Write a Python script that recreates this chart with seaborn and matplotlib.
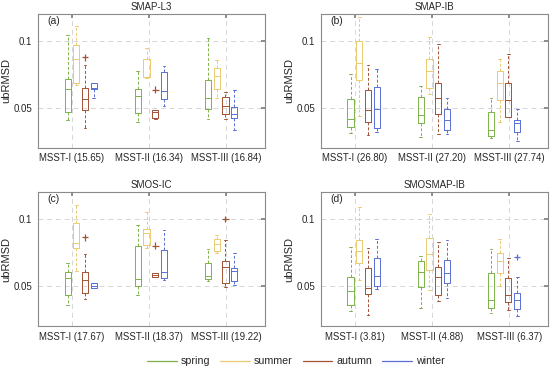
import numpy as np
import pandas as pd
import matplotlib
matplotlib.use("Agg")
import matplotlib.pyplot as plt
from matplotlib.lines import Line2D
import seaborn as sns

# seasons and their colours
seasons = ["spring", "summer", "autumn", "winter"]
season_colors = ["#7DB24A", "#EACB72", "#A35236", "#5A6FD6"]

titles = ["SMAP-L3", "SMAP-IB", "SMOS-IC", "SMOSMAP-IB"]
panel_tags = ["(a)", "(b)", "(c)", "(d)"]
tick_labels = [
    ["MSST-I (15.65)", "MSST-II (16.34)", "MSST-III (16.84)"],
    ["MSST-I (26.80)", "MSST-II (27.20)", "MSST-III (27.74)"],
    ["MSST-I (17.67)", "MSST-II (18.37)", "MSST-III (19.22)"],
    ["MSST-I (3.81)", "MSST-II (4.88)", "MSST-III (6.37)"],
]

# box summaries, one row per group, one entry per season:
# [low whisker, q1, median, q3, high whisker]
smap_l3 = [
    [[0.0410, 0.0470, 0.0636, 0.0715, 0.1045], [0.0670, 0.0686, 0.0866, 0.0970, 0.1110],
     [0.0347, 0.0483, 0.0564, 0.0649, 0.0817], [0.0574, 0.0636, 0.0644, 0.0686, 0.0686]],
    [[0.0396, 0.0463, 0.0587, 0.0641, 0.0772], [0.0725, 0.0728, 0.0732, 0.0866, 0.0946],
     [0.0413, 0.0421, 0.0468, 0.0480, 0.0480], [0.0510, 0.0562, 0.0624, 0.0765, 0.0814]],
    [[0.0413, 0.0488, 0.0574, 0.0708, 0.1020], [0.0574, 0.0636, 0.0735, 0.0797, 0.0854],
     [0.0413, 0.0450, 0.0512, 0.0579, 0.0619], [0.0332, 0.0426, 0.0450, 0.0505, 0.0629]],
]
smap_ib = [
    [[0.0310, 0.0359, 0.0418, 0.0562, 0.0752], [0.0438, 0.0705, 0.0834, 0.1000, 0.1180],
     [0.0297, 0.0394, 0.0483, 0.0629, 0.0822], [0.0320, 0.0347, 0.0493, 0.0656, 0.0790]],
    [[0.0282, 0.0384, 0.0446, 0.0579, 0.0661], [0.0600, 0.0644, 0.0772, 0.0866, 0.1030],
     [0.0302, 0.0450, 0.0569, 0.0681, 0.0975], [0.0307, 0.0332, 0.0406, 0.0493, 0.0569]],
    [[0.0272, 0.0285, 0.0334, 0.0470, 0.0574], [0.0396, 0.0554, 0.0686, 0.0777, 0.0866],
     [0.0433, 0.0433, 0.0554, 0.0681, 0.0903], [0.0253, 0.0322, 0.0384, 0.0408, 0.0488]],
]
smos_ic = [
    [[0.0358, 0.0433, 0.0560, 0.0602, 0.0669], [0.0610, 0.0784, 0.0818, 0.0970, 0.1104],
     [0.0403, 0.0445, 0.0547, 0.0602, 0.0739], [0.0485, 0.0485, 0.0502, 0.0520, 0.0520]],
    [[0.0435, 0.0500, 0.0552, 0.0800, 0.0955], [0.0781, 0.0808, 0.0896, 0.0925, 0.1055],
     [0.0570, 0.0570, 0.0585, 0.0594, 0.0594], [0.0545, 0.0557, 0.0602, 0.0769, 0.0918]],
    [[0.0535, 0.0552, 0.0577, 0.0674, 0.0774], [0.0744, 0.0764, 0.0813, 0.0851, 0.0878],
     [0.0495, 0.0525, 0.0644, 0.0689, 0.0843], [0.0507, 0.0540, 0.0610, 0.0632, 0.0744]],
]
smosmap_ib = [
    [[0.0316, 0.0360, 0.0460, 0.0565, 0.0789], [0.0545, 0.0669, 0.0759, 0.0843, 0.1087],
     [0.0286, 0.0440, 0.0485, 0.0634, 0.0781], [0.0478, 0.0502, 0.0577, 0.0709, 0.0851]],
    [[0.0336, 0.0490, 0.0607, 0.0689, 0.0724], [0.0470, 0.0622, 0.0739, 0.0856, 0.1037],
     [0.0390, 0.0435, 0.0570, 0.0639, 0.0831], [0.0410, 0.0522, 0.0600, 0.0694, 0.0843]],
    [[0.0296, 0.0336, 0.0398, 0.0594, 0.0774], [0.0498, 0.0597, 0.0684, 0.0749, 0.0848],
     [0.0321, 0.0378, 0.0433, 0.0557, 0.0709], [0.0276, 0.0328, 0.0398, 0.0445, 0.0570]],
]

# outliers: (group index, season, value)
outliers_l3 = [(0, "autumn", 0.0876), (1, "autumn", 0.0634)]
outliers_ib = []
outliers_ic = [(0, "autumn", 0.0863), (1, "autumn", 0.0800), (2, "autumn", 0.1000)]
outliers_smosmap = [(2, "winter", 0.0719)]

panels = [smap_l3, smap_ib, smos_ic, smosmap_ib]
panel_outliers = [outliers_l3, outliers_ib, outliers_ic, outliers_smosmap]


def box_pos(g, s):
    # matlab-ish layout: boxes of a group are not centred on the tick
    return 1 - 0.056 + 0.91 * g + 0.113 * s


sns.set_theme(style="white")
plt.rcParams["font.family"] = ["Liberation Sans", "DejaVu Sans"]

fig, axes = plt.subplots(2, 2, figsize=(5.5, 3.74), dpi=100)
fig.subplots_adjust(left=0.069, right=0.996, top=0.963, bottom=0.128,
                    wspace=0.247, hspace=0.33)

for i, ax in enumerate(axes.flat):
    rows = []
    for g, group in enumerate(panels[i]):
        for s, stats in enumerate(group):
            for v in stats:
                rows.append({"pos": box_pos(g, s), "season": seasons[s], "value": v})
    df = pd.DataFrame(rows)

    sns.boxplot(data=df, x="pos", y="value", hue="season", hue_order=seasons,
                palette=season_colors, native_scale=True, dodge=False, width=0.7,
                fill=False, whis=(0, 100), linewidth=0.7, legend=False,
                capwidths=0.035,
                whiskerprops={"linestyle": (0, (3, 2))}, ax=ax)

    if panel_outliers[i]:
        odf = pd.DataFrame([{"pos": box_pos(g, seasons.index(s)), "season": s, "value": v}
                            for g, s, v in panel_outliers[i]])
        sns.scatterplot(data=odf, x="pos", y="value", hue="season", hue_order=seasons,
                        palette=season_colors, marker="+", s=22, linewidth=0.9,
                        legend=False, ax=ax, zorder=5)

    ax.set_xlim(0.56, 3.5)
    ax.set_ylim(0.02, 0.12)
    ax.set_xticks([1, 2, 3])
    ax.set_xticklabels(tick_labels[i], fontsize=6.9)
    ax.set_yticks([0.05, 0.1])
    ax.set_yticklabels(["0.05", "0.1"], fontsize=7)
    ax.set_xlabel("")
    ax.set_ylabel("ubRMSD", fontsize=8, labelpad=2)
    ax.set_title(titles[i], fontsize=7, pad=3)
    ax.text(0.04, 0.95, panel_tags[i], transform=ax.transAxes, fontsize=7.5, va="center")
    ax.grid(True, linestyle=(0, (5, 4)), color="#d6d6d6", linewidth=0.7)
    ax.set_axisbelow(True)
    ax.tick_params(direction="in", length=3, top=True, right=True, pad=4,
                   color="#808080", labelcolor="#262626")
    for sp in ax.spines.values():
        sp.set_color("#8a8a8a")
        sp.set_linewidth(0.8)

handles = [Line2D([], [], color=c, linewidth=0.9) for c in season_colors]
fig.legend(handles, seasons, loc="lower center", bbox_to_anchor=(0.538, -0.005), ncol=4,
           frameon=False, prop={"size": 7.7}, handlelength=2.8,
           columnspacing=0.9, handletextpad=0.4)

fig.savefig("out.png", dpi=100)
